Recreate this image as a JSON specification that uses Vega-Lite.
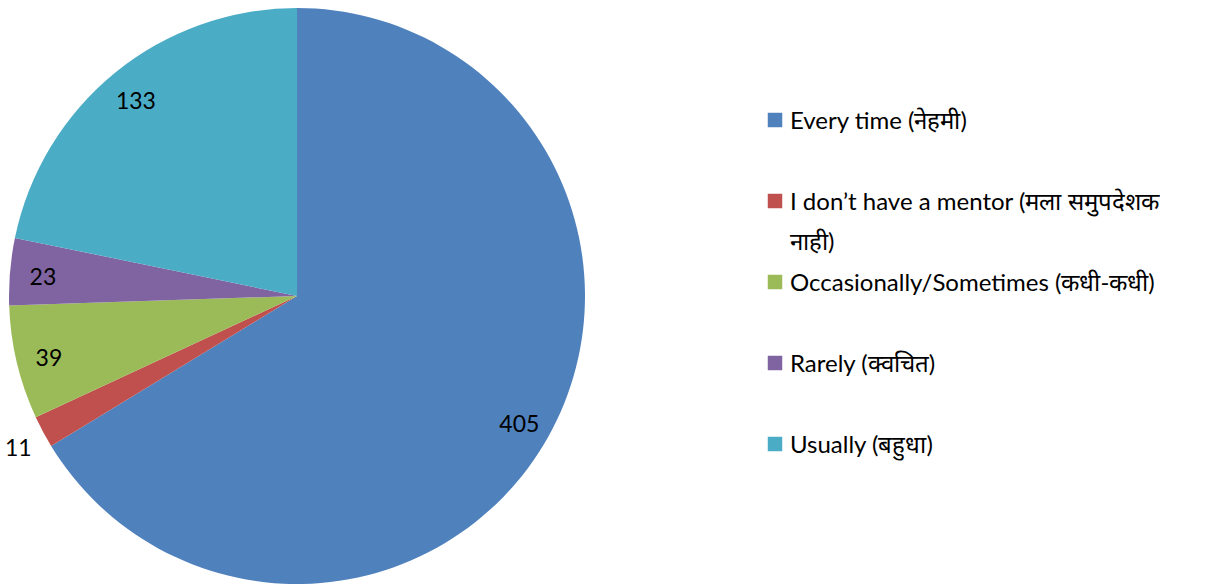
{
  "$schema": "https://vega.github.io/schema/vega-lite/v6.json",
  "width": 594,
  "height": 592,
  "padding": 0,
  "background": "white",
  "view": {"stroke": null},
  "data": {
    "values": [
      {"category": "Every time (नेहमी)", "value": 405},
      {"category": "I don’t have a mentor (मला समुपदेशक नाही)", "value": 11},
      {"category": "Occasionally/Sometimes (कधी-कधी)", "value": 39},
      {"category": "Rarely (क्वचित)", "value": 23},
      {"category": "Usually (बहुधा)", "value": 133}
    ]
  },
  "encoding": {
    "theta": {"field": "value", "type": "quantitative", "stack": true},
    "order": {"field": "category", "type": "ordinal"},
    "color": {
      "field": "category",
      "type": "nominal",
      "scale": {"range": ["#4F81BD", "#C0504D", "#9BBB59", "#8064A2", "#4BACC6"]},
      "legend": {
        "title": null,
        "orient": "none",
        "legendX": 763,
        "legendY": 108,
        "symbolType": "square",
        "symbolSize": 210,
        "symbolStrokeWidth": 0,
        "labelFont": "Lato",
        "labelFontSize": 24,
        "labelColor": "#000000",
        "labelLimit": 0,
        "labelOffset": 3,
        "rowPadding": 15,
        "gridAlign": "all",
        "labelExpr": "indexof(datum.label, 'mentor') >= 0 ? ['I don’t have a mentor (मला समुपदेशक', 'नाही)'] : datum.label",
        "labelBaseline": "alphabetic",
        "encode": {"labels": {"update": {"dy": {"value": 9}, "lineHeight": {"value": 40}}}}
      }
    }
  },
  "layer": [
    {"mark": {"type": "arc", "outerRadius": 288, "strokeWidth": 0}},
    {
      "mark": {
        "type": "text",
        "radius": {"expr": "datum.value < 15 ? 316 : 255"},
        "dy": 4,
        "font": "Lato",
        "fontSize": 23
      },
      "encoding": {
        "text": {"field": "value", "type": "quantitative"},
        "color": {"value": "#000000"},
        "detail": {"field": "category", "type": "nominal"}
      }
    }
  ]
}
